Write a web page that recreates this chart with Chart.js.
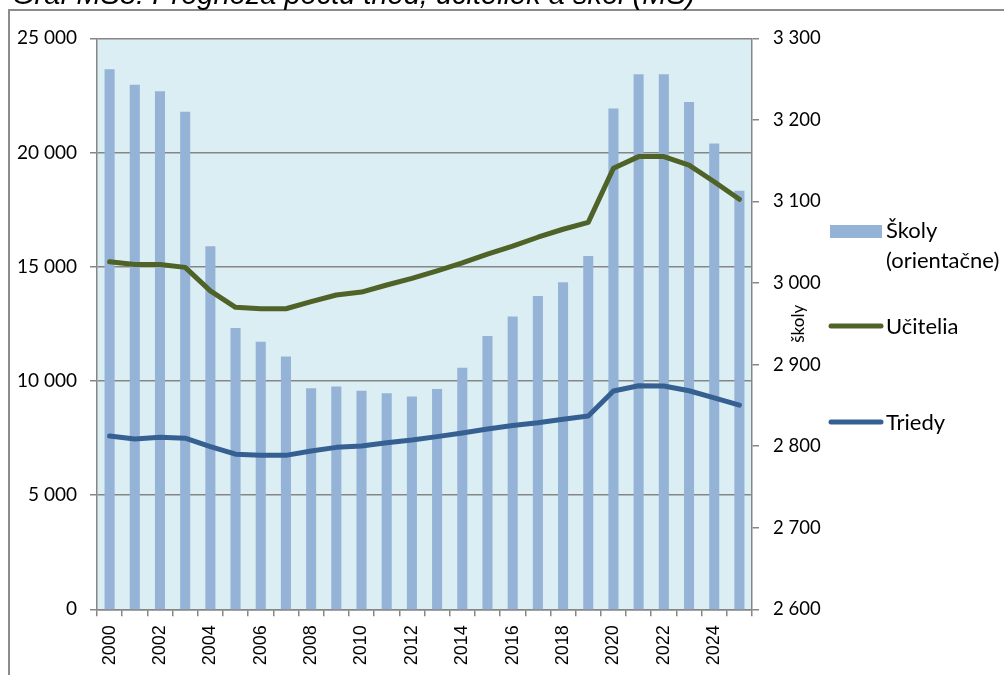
<!DOCTYPE html>
<html>
<head>
<meta charset="utf-8">
<script src="https://cdn.jsdelivr.net/npm/chart.js@4"></script>
<style>
  body { margin: 0; background: #fff; }
  #wrap { width: 1004px; height: 675px; }
</style>
</head>
<body>
<div id="wrap"><canvas id="myChart" width="1004" height="675"></canvas></div>
<script>
const years = ['2000','2001','2002','2003','2004','2005','2006','2007','2008','2009','2010','2011','2012',
               '2013','2014','2015','2016','2017','2018','2019','2020','2021','2022','2023','2024','2025'];
const skoly = [3262, 3243, 3235, 3210, 3045, 2945, 2928, 2910, 2871, 2873, 2868, 2865, 2861,
               2870, 2896, 2935, 2959, 2984, 3001, 3033, 3214, 3256, 3256, 3222, 3171, 3113];
const ucitelia = [15220, 15100, 15100, 14970, 13940, 13220, 13160, 13160, 13470, 13760, 13890, 14200, 14490,
                  14820, 15170, 15550, 15900, 16290, 16640, 16940, 19310, 19820, 19820, 19450, 18720, 17950];
const triedy = [7590, 7460, 7530, 7490, 7120, 6790, 6740, 6740, 6930, 7090, 7150, 7290, 7410,
                7560, 7720, 7890, 8050, 8170, 8320, 8460, 9560, 9790, 9780, 9570, 9260, 8940];
const leftTicks = [0, 5000, 10000, 15000, 20000, 25000];
const rightTicks = [2600, 2700, 2800, 2900, 3000, 3100, 3200, 3300];

const titleText = 'Graf MŠ8: Prognóza počtu tried, učiteliek a škôl (MŠ)';
const rightAxisTitle = 'školy';

const gridColor = '#868686';

function fmt(v) {
  return String(v).replace(/\B(?=(\d{3})+(?!\d))/g, ' ');
}

// plot background, frame, title and legend
const decor = {
  id: 'decor',
  beforeDraw(chart) {
    const c = chart.ctx;
    const a = chart.chartArea;
    c.save();
    c.fillStyle = '#DBEEF3';
    c.fillRect(a.left, a.top, a.right - a.left, a.bottom - a.top);
    c.strokeStyle = '#8c8c8c';
    c.lineWidth = 2;
    c.beginPath();
    c.moveTo(9, 680);
    c.lineTo(9, 10);
    c.lineTo(1010, 10);
    c.stroke();
    c.fillStyle = '#000';
    c.font = 'italic 29px "Liberation Sans"';
    c.textBaseline = 'alphabetic';
    c.fillText(titleText, 12, 4);
    c.restore();
  },
  afterDraw(chart) {
    const c = chart.ctx;
    const a = chart.chartArea;
    c.save();
    // right axis title
    c.fillStyle = '#000';
    c.font = '17px Lato';
    c.textAlign = 'center';
    c.textBaseline = 'middle';
    c.translate(799, (a.top + a.bottom) / 2);
    c.rotate(-Math.PI / 2);
    c.fillText(rightAxisTitle, 0, 0);
    c.restore();

    // legend
    const ds = chart.data.datasets;
    c.save();
    c.font = '22px Lato';
    c.textBaseline = 'alphabetic';
    c.fillStyle = ds[0].backgroundColor;
    c.fillRect(830, 225, 52, 13);
    c.fillStyle = '#000';
    const parts = ds[0].label.split('\n');
    c.fillText(parts[0], 886, 238);
    c.fillText(parts[1], 886, 268);
    c.lineCap = 'round';
    c.lineWidth = 5;
    const rows = [[ds[1], 326], [ds[2], 422]];
    rows.forEach(function(r) {
      c.strokeStyle = r[0].borderColor;
      c.beginPath();
      c.moveTo(831, r[1]);
      c.lineTo(881, r[1]);
      c.stroke();
      c.fillText(r[0].label, 886, r[1] + 8);
    });
    c.restore();
  }
};

Chart.defaults.font.family = 'Lato';
Chart.defaults.color = '#000';

const ctx = document.getElementById('myChart').getContext('2d');
const myChart = new Chart(ctx, {
  type: 'bar',
  data: {
    labels: years,
    datasets: [
      {
        type: 'bar',
        label: 'Školy\n(orientačne)',
        data: skoly,
        yAxisID: 'y1',
        backgroundColor: '#95B3D7',
        barPercentage: 0.4,
        categoryPercentage: 1,
        order: 2
      },
      {
        type: 'line',
        label: 'Učitelia',
        data: ucitelia,
        yAxisID: 'y',
        borderColor: '#4F6228',
        borderWidth: 5,
        pointRadius: 0,
        tension: 0,
        borderJoinStyle: 'round',
        borderCapStyle: 'round',
        order: 1
      },
      {
        type: 'line',
        label: 'Triedy',
        data: triedy,
        yAxisID: 'y',
        borderColor: '#376092',
        borderWidth: 5,
        pointRadius: 0,
        tension: 0,
        borderJoinStyle: 'round',
        borderCapStyle: 'round',
        order: 0
      }
    ]
  },
  options: {
    responsive: false,
    animation: false,
    layout: {
      padding: { left: 0, top: 38.3, right: 0, bottom: 0 }
    },
    plugins: {
      legend: { display: false },
      title: { display: false },
      tooltip: { enabled: false }
    },
    scales: {
      x: {
        offset: true,
        grid: { display: true, drawOnChartArea: false, offset: true, tickLength: 7, color: gridColor, lineWidth: 1.5 },
        border: { color: gridColor, width: 1.5 },
        ticks: {
          autoSkip: false,
          maxRotation: 90,
          minRotation: 90,
          padding: 9,
          font: { family: 'Liberation Sans', size: 18 },
          callback: function(value, index) {
            return index % 2 === 0 ? years[index] : '';
          }
        },
        afterFit: function(scale) { scale.height = 65.7; }
      },
      y: {
        position: 'left',
        min: leftTicks[0],
        max: leftTicks[leftTicks.length - 1],
        grid: { color: gridColor, lineWidth: 1.5, tickLength: 7 },
        border: { color: gridColor, width: 1.5 },
        afterBuildTicks: function(scale) {
          scale.ticks = leftTicks.map(function(v) { return { value: v }; });
        },
        ticks: {
          padding: 13,
          font: { size: 19 },
          callback: function(value) { return fmt(value); }
        },
        afterFit: function(scale) { scale.width = 97; }
      },
      y1: {
        position: 'right',
        min: rightTicks[0],
        max: rightTicks[rightTicks.length - 1],
        grid: { drawOnChartArea: false, color: gridColor, lineWidth: 1.5, tickLength: 7 },
        border: { color: gridColor, width: 1.5 },
        afterBuildTicks: function(scale) {
          scale.ticks = rightTicks.map(function(v) { return { value: v }; });
        },
        ticks: {
          padding: 14,
          font: { size: 18.5 },
          callback: function(value) { return fmt(value); }
        },
        afterFit: function(scale) { scale.width = 252; }
      }
    }
  },
  plugins: [decor]
});
</script>
</body>
</html>
